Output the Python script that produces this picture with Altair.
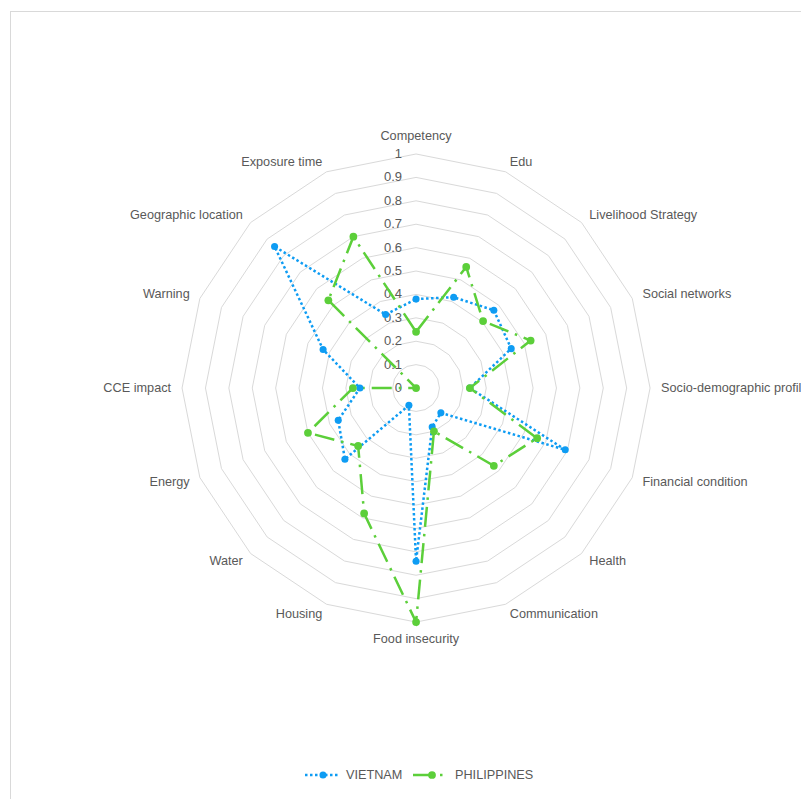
import altair as alt
import pandas as pd

categories = ["Competency", "Edu", "Livelihood Strategy", "Social networks",
              "Socio-demographic  profile", "Financial condition", "Health",
              "Communication", "Food insecurity", "Housing", "Water", "Energy",
              "CCE impact", "Warning", "Geographic location", "Exposure time"]
vietnam = [0.38, 0.42, 0.47, 0.44, 0.23, 0.69, 0.15, 0.18, 0.74, 0.08,
           0.43, 0.36, 0.24, 0.43, 0.855, 0.34]
philippines = [0.24, 0.56, 0.405, 0.53, 0.23, 0.56, 0.47, 0.20, 1.0, 0.58,
               0.35, 0.50, 0.27, 0.0, 0.53, 0.70]
series_names = ["VIETNAM", "PHILIPPINES"]
ticks = [0, 0.1, 0.2, 0.3, 0.4, 0.5, 0.6, 0.7, 0.8, 0.9, 1.0]
tick_labels = ["0", "0.1", "0.2", "0.3", "0.4", "0.5", "0.6", "0.7", "0.8", "0.9", "1"]

N = len(categories)
BLUE = "#0e9cf3"
GREEN = "#5ccf3a"
GRID = "#d9d9d9"
TXT = "#595959"
FONT = "Liberation Sans"
FS = 12.7

# data tables
rows = []
for name, vals in zip(series_names, [vietnam, philippines]):
    for i in range(N + 1):
        rows.append({"series": name, "order": i, "idx": i % N, "value": vals[i % N]})
series_df = pd.DataFrame(rows)

grid_rows = []
for t in ticks[1:]:
    for i in range(N + 1):
        grid_rows.append({"ring": t, "order": i, "idx": i % N, "value": t})
grid_df = pd.DataFrame(grid_rows)

tick_df = pd.DataFrame({"value": ticks, "label": tick_labels})
cat_df = pd.DataFrame({"idx": list(range(N)), "label": categories, "value": [1.047] * N})

xs = alt.Scale(domain=[-1.778, 1.645], nice=False, zero=False)
ys = alt.Scale(domain=[-1.756, 1.658], nice=False, zero=False)


def polar(ch):
    return ch.transform_calculate(
        theta=f"datum.idx * 2 * PI / {N}"
    ).transform_calculate(
        px="datum.value * sin(datum.theta)",
        py="datum.value * cos(datum.theta)",
    )


X = alt.X("px:Q", scale=xs, axis=None)
Y = alt.Y("py:Q", scale=ys, axis=None)

grid = polar(alt.Chart(grid_df).mark_line(color=GRID, strokeWidth=1)).encode(
    x=X, y=Y, detail="ring:N", order="order:Q")

ticks_txt = alt.Chart(tick_df).mark_text(
    align="right", baseline="middle", dx=-14, font=FONT, fontSize=13, color=TXT
).transform_calculate(px="0", py="datum.value").encode(x=X, y=Y, text="label:N")

cat_top = polar(alt.Chart(cat_df).mark_text(align="center", baseline="bottom", font=FONT, fontSize=FS, color=TXT)
                ).transform_filter("datum.idx == 0").encode(x=X, y=Y, text="label:N")
cat_bottom = polar(alt.Chart(cat_df).mark_text(align="center", baseline="top", font=FONT, fontSize=FS, color=TXT)
                   ).transform_filter(f"datum.idx == {N // 2}").encode(x=X, y=Y, text="label:N")
cat_right = polar(alt.Chart(cat_df).mark_text(align="left", baseline="middle", font=FONT, fontSize=FS, color=TXT)
                  ).transform_filter(f"datum.idx > 0 && datum.idx < {N // 2}").encode(x=X, y=Y, text="label:N")
cat_left = polar(alt.Chart(cat_df).mark_text(align="right", baseline="middle", font=FONT, fontSize=FS, color=TXT)
                 ).transform_filter(f"datum.idx > {N // 2}").encode(x=X, y=Y, text="label:N")

vn_line = polar(alt.Chart(series_df).mark_line(color=BLUE, strokeWidth=2.5, strokeDash=[2.5, 2.5])
                ).transform_filter(f"datum.series == '{series_names[0]}'").encode(x=X, y=Y, order="order:Q")
ph_line = polar(alt.Chart(series_df).mark_line(color=GREEN, strokeWidth=2.5, strokeDash=[20, 7, 2.5, 7])
                ).transform_filter(f"datum.series == '{series_names[1]}'").encode(x=X, y=Y, order="order:Q")
vn_pts = polar(alt.Chart(series_df).mark_circle(color=BLUE, size=50, opacity=1)
               ).transform_filter(f"datum.series == '{series_names[0]}' && datum.order < {N}").encode(x=X, y=Y)
ph_pts = polar(alt.Chart(series_df).mark_circle(color=GREEN, size=60, opacity=1)
               ).transform_filter(f"datum.series == '{series_names[1]}' && datum.order < {N}").encode(x=X, y=Y)

one = pd.DataFrame({"k": [0]})
border_v = alt.Chart(one).mark_rule(color=GRID, strokeWidth=1).encode(
    x=alt.value(10.5), y=alt.value(11), y2=alt.value(799))
border_h = alt.Chart(one).mark_rule(color=GRID, strokeWidth=1).encode(
    x=alt.value(10), x2=alt.value(801), y=alt.value(11.5))

leg_vn_line = alt.Chart(one).mark_rule(color=BLUE, strokeWidth=2.5, strokeDash=[2.5, 2.5]).encode(
    x=alt.value(305), x2=alt.value(340), y=alt.value(775))
leg_vn_pt = alt.Chart(one).mark_circle(color=BLUE, size=50, opacity=1).encode(
    x=alt.value(323), y=alt.value(775))
leg_vn_txt = alt.Chart(one).mark_text(align="left", baseline="middle", font=FONT, fontSize=FS, color=TXT,
                                      text=series_names[0]).encode(x=alt.value(346), y=alt.value(775))
leg_ph_line = alt.Chart(one).mark_rule(color=GREEN, strokeWidth=2.5, strokeDash=[20, 7, 2.5, 7]).encode(
    x=alt.value(413), x2=alt.value(446), y=alt.value(775))
leg_ph_pt = alt.Chart(one).mark_circle(color=GREEN, size=60, opacity=1).encode(
    x=alt.value(432), y=alt.value(775))
leg_ph_txt = alt.Chart(one).mark_text(align="left", baseline="middle", font=FONT, fontSize=FS, color=TXT,
                                      text=series_names[1]).encode(x=alt.value(455), y=alt.value(775))

chart = alt.layer(
    grid, ticks_txt, cat_top, cat_bottom, cat_right, cat_left,
    vn_line, ph_line, vn_pts, ph_pts,
    border_v, border_h,
    leg_vn_line, leg_vn_pt, leg_vn_txt, leg_ph_line, leg_ph_pt, leg_ph_txt,
).properties(
    width=801, height=799, padding=0, autosize=alt.AutoSizeParams(type="none"), background="white"
).configure_view(stroke=None)

chart.save("out.html", embed_options={"renderer": "svg", "actions": False})
